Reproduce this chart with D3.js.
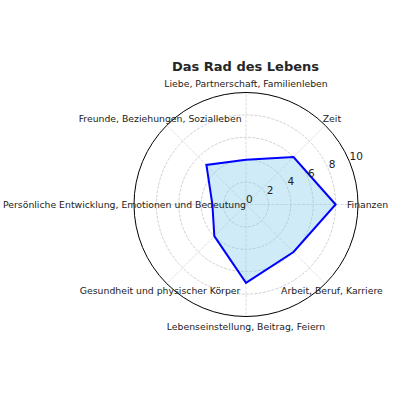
<!DOCTYPE html>
<html>
<head>
<meta charset="utf-8">
<script src="https://cdn.jsdelivr.net/npm/d3@7"></script>
<style>
  body { margin: 0; background: #fff; }
  text { font-family: "DejaVu Sans", sans-serif; }
</style>
</head>
<body>
<svg id="vis" width="400" height="400"></svg>
<script>
// categories, counterclockwise starting at the right
var categories = ["Finanzen", "Zeit", "Liebe, Partnerschaft, Familienleben",
    "Freunde, Beziehungen, Sozialleben", "Persönliche Entwicklung, Emotionen und Bedeutung",
    "Gesundheit und physischer Körper", "Lebenseinstellung, Beitrag, Feiern",
    "Arbeit, Beruf, Karriere"];
var scores = [8, 6, 4, 5, 3, 4, 7, 6];
var rTicks = [0, 2, 4, 6, 8, 10];
var title = "Das Rad des Lebens";

window.onload = function(){
    drawRadar();
};

function drawRadar(){
    let svg = d3.select("#vis");
    let cx = 246, cy = 204.5;
    let g = svg.append("g").attr("transform", "translate(" + cx + "," + cy + ")");

    let rScale = d3.scaleLinear().domain([0, 10]).range([0, 112]);
    let aScale = d3.scaleLinear().domain([0, categories.length]).range([0, 2 * Math.PI]);

    function px(r, i){ return rScale(r) * Math.cos(aScale(i)); }
    function py(r, i){ return -rScale(r) * Math.sin(aScale(i)); }

    // ring grid
    g.selectAll("circle.ring").data(rTicks.filter(function(d){ return d > 0 && d < 10; }))
        .enter().append("circle")
        .attr("r", function(d){ return rScale(d); })
        .attr("fill", "none")
        .attr("stroke", "#c4c4c4")
        .attr("stroke-width", 0.8)
        .attr("stroke-dasharray", "3,1.3");

    // spokes
    g.selectAll("line.spoke").data(categories)
        .enter().append("line")
        .attr("x1", 0).attr("y1", 0)
        .attr("x2", function(d, i){ return px(10, i); })
        .attr("y2", function(d, i){ return py(10, i); })
        .attr("stroke", "#d4d4d4")
        .attr("stroke-width", 0.8)
        .attr("stroke-dasharray", "3,1.3");

    // data polygon
    let line = d3.line()
        .x(function(d, i){ return px(d, i); })
        .y(function(d, i){ return py(d, i); })
        .curve(d3.curveLinearClosed);

    g.append("path")
        .attr("d", line(scores))
        .attr("fill", "skyblue")
        .attr("fill-opacity", 0.4)
        .attr("stroke", "blue")
        .attr("stroke-width", 2)
        .attr("stroke-linejoin", "miter");

    // outer circle
    g.append("circle")
        .attr("r", rScale(10))
        .attr("fill", "none")
        .attr("stroke", "#000")
        .attr("stroke-width", 1);

    // radial tick labels at 22.5 degrees
    let la = Math.PI / 8;
    g.selectAll("text.rlab").data(rTicks)
        .enter().append("text")
        .attr("x", function(d){ return rScale(d) * Math.cos(la); })
        .attr("y", function(d){ return -rScale(d) * Math.sin(la) - 2; })
        .attr("font-size", "10.5px")
        .attr("fill", "#222")
        .text(function(d){ return d; });

    // category labels
    g.selectAll("text.clab").data(categories)
        .enter().append("text")
        .attr("x", function(d, i){ return (rScale(10) + 9.5) * Math.cos(aScale(i)); })
        .attr("y", function(d, i){ return -(rScale(10) + 9.5) * Math.sin(aScale(i)); })
        .attr("text-anchor", "middle")
        .attr("dominant-baseline", "central")
        .attr("font-size", "9.3px")
        .attr("fill", "#222")
        .text(function(d){ return d; });

    svg.append("text")
        .attr("x", 245.5).attr("y", 70.5)
        .attr("text-anchor", "middle")
        .attr("font-size", "13px")
        .attr("font-weight", "bold")
        .attr("fill", "#262626")
        .text(title);
}
</script>
</body>
</html>
